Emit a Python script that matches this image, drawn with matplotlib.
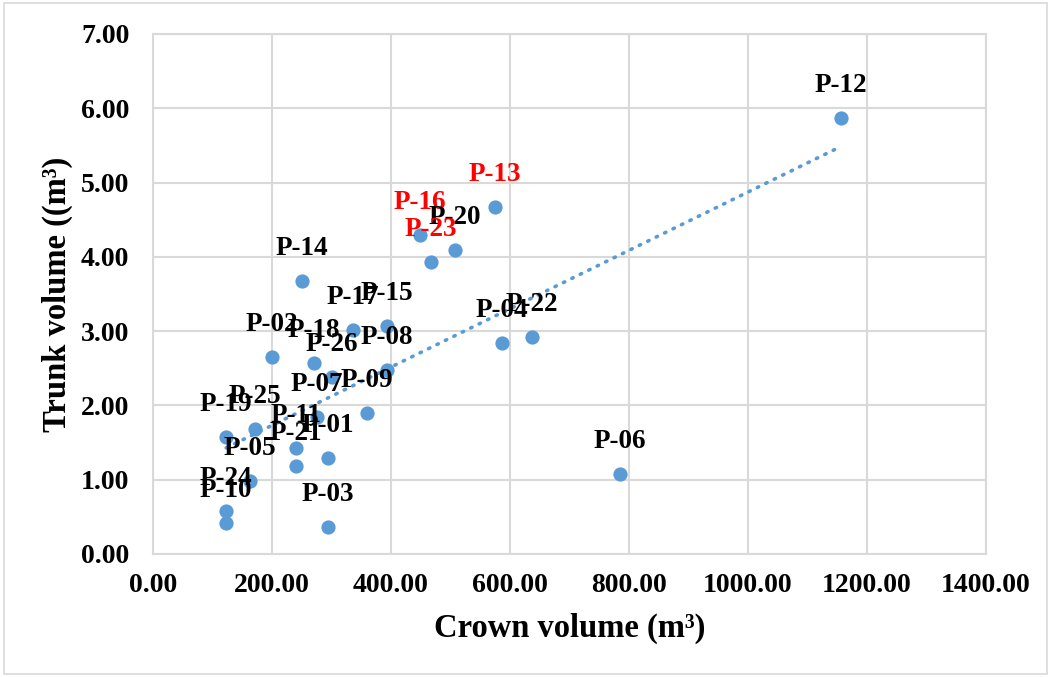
import matplotlib
matplotlib.use("Agg")
import matplotlib.pyplot as plt
from matplotlib.patches import Rectangle
import numpy as np

# data
names = ["P-01", "P-02", "P-03", "P-04", "P-05", "P-06", "P-07", "P-08", "P-09",
         "P-10", "P-11", "P-12", "P-13", "P-14", "P-15", "P-16", "P-17", "P-18",
         "P-19", "P-20", "P-21", "P-22", "P-23", "P-24", "P-25", "P-26"]
crown = [294, 200, 294, 587, 163, 785, 276, 393, 360,
         123, 240, 1156, 575, 250, 393, 449, 336, 271,
         123, 508, 240, 637, 467, 123, 171, 301]
trunk = [1.29, 2.65, 0.36, 2.84, 0.98, 1.08, 1.84, 2.48, 1.90,
         0.42, 1.43, 5.87, 4.67, 3.67, 3.07, 4.29, 3.01, 2.57,
         1.57, 4.09, 1.18, 2.92, 3.93, 0.58, 1.68, 2.38]
red_names = ["P-13", "P-16", "P-23"]

x_ticks = [0, 200, 400, 600, 800, 1000, 1200, 1400]
y_ticks = [0, 1, 2, 3, 4, 5, 6, 7]

plt.rcParams['font.family'] = ['Liberation Serif', 'DejaVu Serif']
plt.rcParams['font.weight'] = 'bold'

blue = "#5B9BD5"
grid_col = "#D9D9D9"

fig = plt.figure(figsize=(10.51, 6.77), dpi=100)
ax = fig.add_axes([0.1456, 0.1817, 0.7926, 0.7681])

# outer chart border
fig.patches.append(Rectangle((0.004, 0.004), 0.992, 0.992, transform=fig.transFigure,
                             fill=False, edgecolor=grid_col, linewidth=1.2))

ax.scatter(crown, trunk, s=105, color=blue, zorder=3, linewidths=0)

# linear trendline
x_arr = np.array(crown, dtype=float)
slope, intercept = np.polyfit(x_arr, np.array(trunk), 1)
xs = np.array([x_arr.min(), x_arr.max()])
ax.plot(xs, slope * xs + intercept, color=blue, linewidth=2.6,
        linestyle=(0, (0.4, 2.2)), dash_capstyle='round', zorder=2)

# data labels above points
for n, x, y in zip(names, crown, trunk):
    c = "#FF0000" if n in red_names else "black"
    ax.annotate(n, (x, y), xytext=(0, 23.5), textcoords='offset points',
                ha='center', va='center', fontsize=19.5, fontweight='bold',
                color=c, zorder=4)

ax.set_xlim(0, 1400)
ax.set_ylim(0, 7)
ax.set_xticks(x_ticks)
ax.set_yticks(y_ticks)
ax.set_xticklabels([f"{v:.2f}" for v in x_ticks])
ax.set_yticklabels([f"{v:.2f}" for v in y_ticks])
ax.tick_params(length=0, labelsize=20)
ax.tick_params(axis='x', pad=14)
ax.tick_params(axis='y', pad=17)
for lab in ax.get_xticklabels() + ax.get_yticklabels():
    lab.set_fontweight('bold')

ax.grid(True, color=grid_col, linewidth=1.5)
ax.set_axisbelow(True)
for sp in ax.spines.values():
    sp.set_color(grid_col)
    sp.set_linewidth(1.5)

ax.set_xlabel("Crown volume (m³)", fontsize=23.5, fontweight='bold', labelpad=10)
ax.set_ylabel("Trunk volume ((m³)", fontsize=23.5, fontweight='bold', labelpad=6)

fig.savefig("out.png", dpi=100)
plt.close(fig)
